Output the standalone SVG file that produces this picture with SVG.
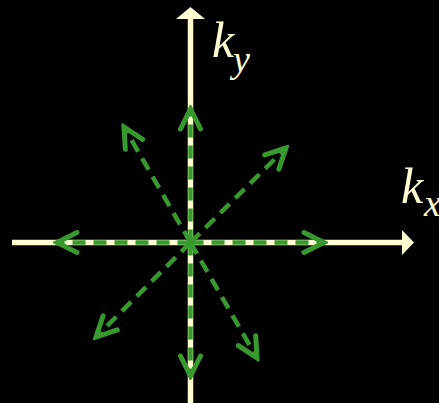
<svg xmlns="http://www.w3.org/2000/svg" width="439" height="403" viewBox="0 0 439 403">
<defs>
<style>
.axis{stroke:#fffcd2;stroke-width:5.5;fill:none}
.head{fill:#fffcd2}
.vec{stroke:#38992e;stroke-width:4.5;stroke-dasharray:13,8;fill:none}
.lbl{font-family:"Liberation Serif",serif;font-style:italic;fill:#fffcd2}
</style>
<marker id="ah" viewBox="-24 -13 28 26" markerWidth="28" markerHeight="26" refX="0" refY="0" orient="auto" markerUnits="userSpaceOnUse">
<path d="M-20,-10 L0,0 L-20,10" fill="none" stroke="#38992e" stroke-width="5" stroke-linecap="round" stroke-linejoin="miter"/>
</marker>
</defs>
<rect width="439" height="403" fill="#000"/>
<g id="axes">
<line class="axis" x1="12" y1="242.5" x2="404" y2="242.5"/>
<polygon class="head" points="414,242.5 402,230 402,255"/>
<line class="axis" x1="190.5" y1="403" x2="190.5" y2="16"/>
<polygon class="head" points="190.5,7 176,19 205,19"/>
</g>
<g id="vectors">
<line class="vec" x1="190.5" y1="242.5" x2="190.5" y2="109" marker-end="url(#ah)"/>
<line class="vec" x1="190.5" y1="242.5" x2="190.5" y2="376" marker-end="url(#ah)"/>
<line class="vec" x1="190.5" y1="242.5" x2="57" y2="242.5" marker-end="url(#ah)"/>
<line class="vec" x1="190.5" y1="242.5" x2="324" y2="242.5" marker-end="url(#ah)"/>
<line class="vec" x1="190.5" y1="242.5" x2="124" y2="127" marker-end="url(#ah)"/>
<line class="vec" x1="190.5" y1="242.5" x2="257" y2="358" marker-end="url(#ah)"/>
<line class="vec" x1="190.5" y1="242.5" x2="286" y2="148" marker-end="url(#ah)"/>
<line class="vec" x1="190.5" y1="242.5" x2="96" y2="337" marker-end="url(#ah)"/>
</g>
<g id="label-ky">
<text class="lbl" x="212" y="57" font-size="50">k</text>
<text class="lbl" x="233" y="72" font-size="38">y</text>
</g>
<g id="label-kx">
<text class="lbl" x="401" y="203" font-size="50">k</text>
<text class="lbl" x="424" y="216" font-size="38">x</text>
</g>
</svg>
